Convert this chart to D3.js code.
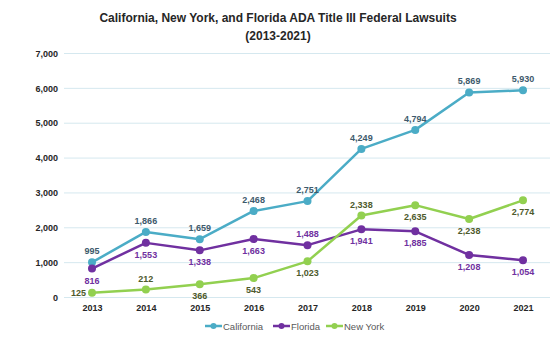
<!DOCTYPE html>
<html><head><meta charset="utf-8">
<script src="https://cdn.jsdelivr.net/npm/d3@7"></script>
<style>body{margin:0;background:#fff}svg{display:block}text{font-family:"Liberation Sans",Arial,sans-serif}</style>
</head><body><svg id="c" width="554" height="351"></svg>
<script>
const years = ["2013","2014","2015","2016","2017","2018","2019","2020","2021"];
const california = [995,1866,1659,2468,2751,4249,4794,5869,5930];
const florida = [816,1553,1338,1663,1488,1941,1885,1208,1054];
const newYork = [125,212,366,543,1023,2338,2635,2238,2774];
const yTicks = [0,1000,2000,3000,4000,5000,6000,7000];
const flPos = ["b","b","b","b","a","b","b","b","b"];
const nyPos = ["l","a","b","b","b","a","b","b","b"];
const caPos = ["a","a","a","a","a","a","a","a","a"];

const series = [
  {name:"California", values:california, color:"#4bacc6", label:"#3d5a6c", pos:caPos},
  {name:"Florida", values:florida, color:"#7030a0", label:"#7030a0", pos:flPos},
  {name:"New York", values:newYork, color:"#92d050", label:"#4e5a2c", pos:nyPos}
];

const svg = d3.select("#c");
const x = d3.scalePoint().domain(years).range([92,523]);
const y = d3.scaleLinear().domain([0,7000]).range([297,53]);

svg.append("text").attr("x",278).attr("y",22).attr("text-anchor","middle")
  .attr("font-size",12).attr("font-weight","bold").attr("fill","#262626")
  .text("California, New York, and Florida ADA Title III Federal Lawsuits");
svg.append("text").attr("x",278).attr("y",40).attr("text-anchor","middle")
  .attr("font-size",12).attr("font-weight","bold").attr("fill","#262626")
  .text("(2013-2021)");

const yAxis = svg.append("g").attr("transform","translate(64,0)")
  .call(d3.axisLeft(y).tickValues(yTicks).tickSize(-486).tickFormat(d3.format(",")));
yAxis.select(".domain").remove();
yAxis.selectAll("line").attr("stroke","#d5e8ef").attr("stroke-width",1);
yAxis.selectAll("text").attr("x",-6).attr("dy","0.35em").attr("font-size",9)
  .attr("font-weight","bold").attr("fill","#262626").attr("font-family","Liberation Sans, Arial, sans-serif");

const xAxis = svg.append("g").attr("transform","translate(0,297)")
  .call(d3.axisBottom(x).tickSize(0));
xAxis.select(".domain").remove();
xAxis.selectAll("text").attr("dy","0").attr("y",14).attr("font-size",9)
  .attr("font-weight","bold").attr("fill","#262626").attr("font-family","Liberation Sans, Arial, sans-serif");

const line = d3.line().x((d,i)=>x(years[i])).y(d=>y(d));
series.forEach(s=>{
  const g = svg.append("g");
  g.append("path").datum(s.values).attr("d",line).attr("fill","none")
    .attr("stroke",s.color).attr("stroke-width",2.5).attr("stroke-linejoin","round");
  g.selectAll("circle").data(s.values).join("circle")
    .attr("cx",(d,i)=>x(years[i])).attr("cy",d=>y(d)).attr("r",4).attr("fill",s.color);
  g.selectAll("text").data(s.values).join("text")
    .attr("x",(d,i)=> s.pos[i]==="l" ? x(years[i])-6 : x(years[i]))
    .attr("y",(d,i)=> s.pos[i]==="a" ? y(d)-8 : s.pos[i]==="b" ? y(d)+15 : y(d)+3.5)
    .attr("text-anchor",(d,i)=> s.pos[i]==="l" ? "end" : "middle")
    .attr("font-size",9).attr("font-weight","bold").attr("fill",s.label)
    .text(d=>d3.format(",")(d));
});

const legendX = [205,273,326];
series.forEach((s,i)=>{
  const g = svg.append("g").attr("transform",`translate(${legendX[i]},326)`);
  g.append("line").attr("x1",0).attr("x2",17).attr("y1",0).attr("y2",0).attr("stroke",s.color).attr("stroke-width",2.5);
  g.append("circle").attr("cx",8.5).attr("cy",0).attr("r",3).attr("fill",s.color);
  g.append("text").attr("x",18).attr("y",3.5).attr("font-size",9.5).attr("fill","#595959").text(s.name);
});
</script></body></html>
